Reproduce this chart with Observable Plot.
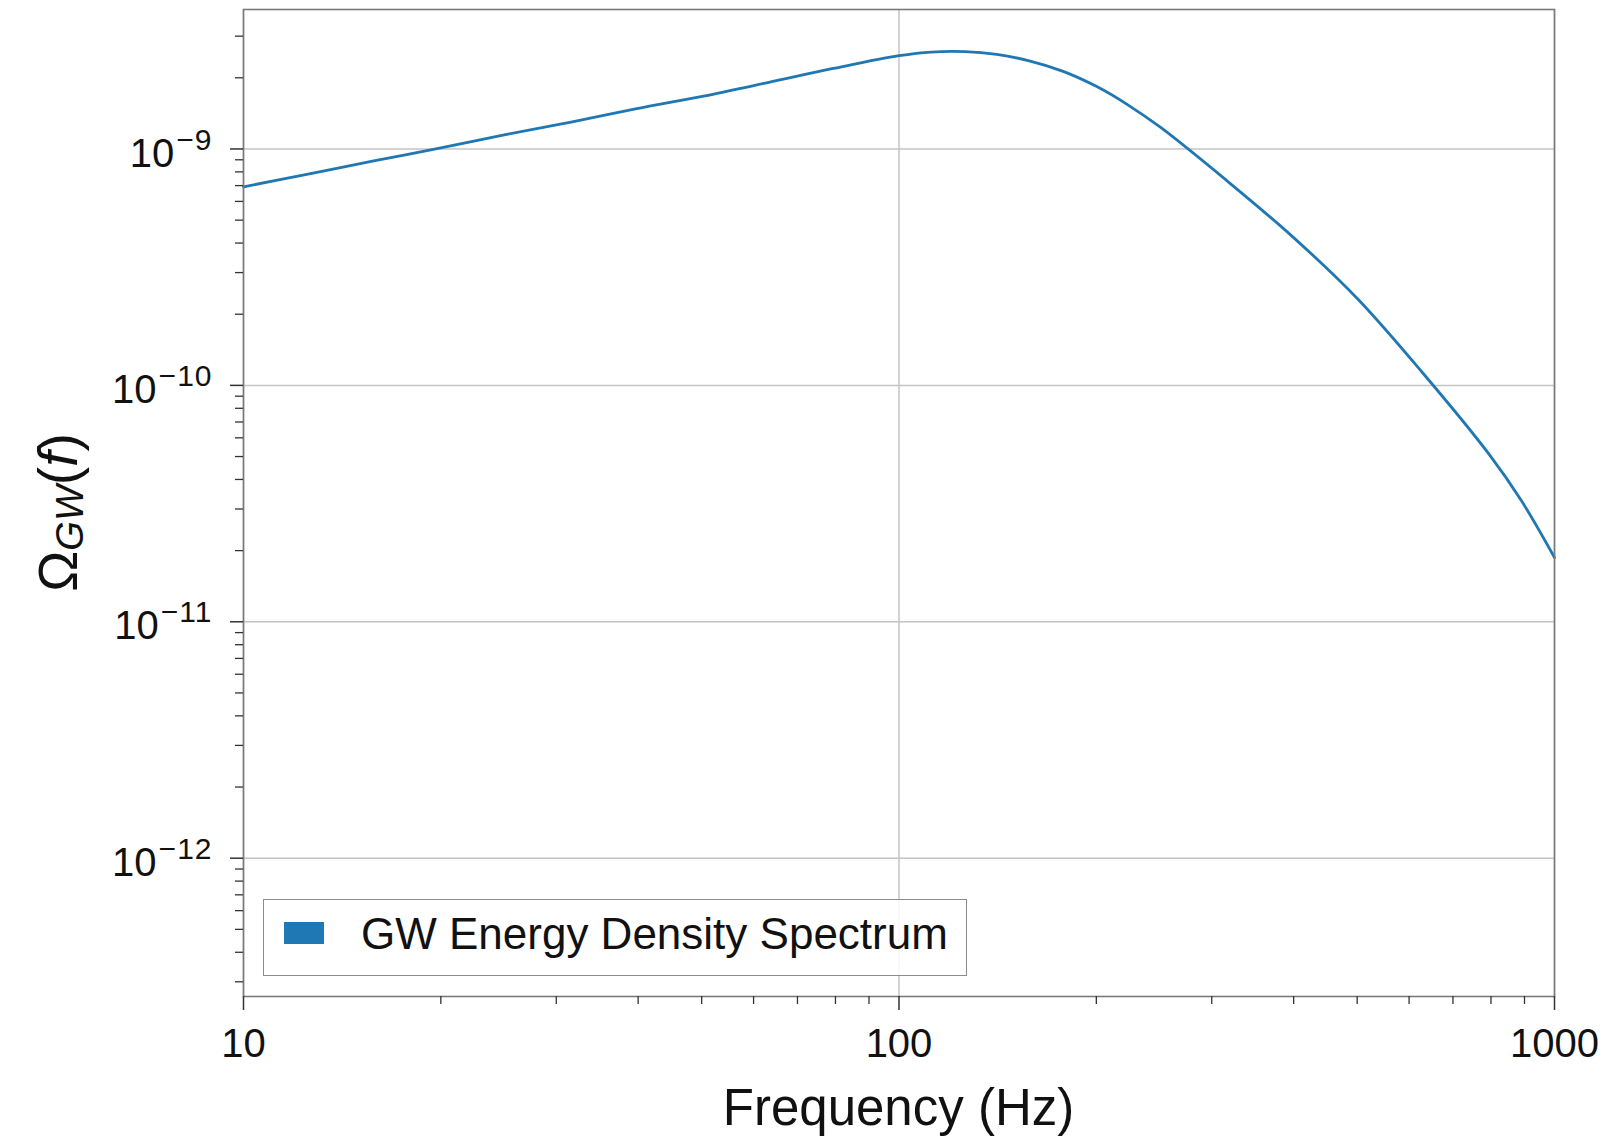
<!DOCTYPE html>
<html>
<head>
<meta charset="utf-8">
<script src="https://cdn.jsdelivr.net/npm/d3@7"></script>
<script src="https://cdn.jsdelivr.net/npm/@observablehq/plot@0.6"></script>
<style>
  html, body { margin: 0; padding: 0; background: #fff; }
  #wrap { position: relative; width: 1605px; height: 1136px; font-family: "Liberation Sans", Arial, Helvetica, sans-serif; }
  #legend { position: absolute; left: 263px; top: 899px; width: 704px; height: 77px; box-sizing: border-box;
            border: 1.5px solid #8c8c8c; background: rgba(255,255,255,0.85); }
  #legend .sw { position: absolute; left: 20px; top: 22px; width: 40px; height: 22px; background: #1f77b4; }
  #legend .lb { position: absolute; left: 97px; top: -3px; line-height: 74px; font-size: 44px; color: #111; white-space: nowrap; }
</style>
</head>
<body>
<div id="wrap"></div>
<script>
// ---- data ----
const frequencyHz = [10, 12.6, 15.8, 20, 25.1, 31.6, 39.8, 50.1, 63.1, 79.4, 100, 112, 126, 141, 158, 178, 200, 224, 251, 316, 398, 501, 631, 794, 891, 1000];
const omegaGW     = [6.92e-10, 7.85e-10, 8.91e-10, 1.01e-9, 1.15e-9, 1.30e-9, 1.48e-9, 1.67e-9, 1.91e-9, 2.19e-9, 2.48e-9, 2.57e-9, 2.58e-9, 2.51e-9, 2.36e-9, 2.13e-9, 1.84e-9, 1.53e-9, 1.23e-9, 7.36e-10, 4.27e-10, 2.32e-10, 1.12e-10, 5.13e-11, 3.24e-11, 1.87e-11];
const seriesName  = "GW Energy Density Spectrum";

const xMajorTicks = [10, 100, 1000];
const xTickLabels = ["10", "100", "1000"];
const yMajorTicks = [1e-12, 1e-11, 1e-10, 1e-9];
const yTickExponents = ["−12", "−11", "−10", "−9"];
const xLabel = "Frequency (Hz)";

const xDomain = [10, 1000];
const yDomain = [2.6e-13, 3.89e-9];

// minor ticks (2..9 × 10^k) inside the domains
function minorTicks(domain) {
  const out = [];
  for (let k = Math.floor(Math.log10(domain[0])); k <= Math.ceil(Math.log10(domain[1])); k++)
    for (let m = 2; m <= 9; m++) { const v = m * Math.pow(10, k); if (v >= domain[0] && v <= domain[1]) out.push(v); }
  return out;
}
const xMinor = minorTicks(xDomain);
const yMinor = minorTicks(yDomain);

const data = frequencyHz.map((f, i) => ({f, omega: omegaGW[i], series: seriesName}));

const W = 1605, H = 1136;
const plot = Plot.plot({
  width: W, height: H,
  marginLeft: 243, marginRight: 51, marginTop: 9, marginBottom: 140,
  style: {fontFamily: '"Liberation Sans", Arial, Helvetica, sans-serif', background: "#fff", color: "#111"},
  x: {type: "log", domain: xDomain, label: null},
  y: {type: "log", domain: yDomain, label: null},
  marks: [
    Plot.gridY(yMajorTicks, {stroke: "#c4c4c4", strokeOpacity: 1, strokeWidth: 1.5}),
    Plot.gridX(xMajorTicks, {stroke: "#c4c4c4", strokeOpacity: 1, strokeWidth: 1.5}),
    Plot.line(data, {x: "f", y: "omega", stroke: "#1f77b4", strokeWidth: 2.8, curve: "catmull-rom"}),
    Plot.frame({stroke: "#7a7a7a", strokeWidth: 1.6}),
    Plot.axisY(yMinor, {anchor: "left", tickSize: 8, tickFormat: () => "", stroke: "#333", strokeWidth: 1.3, label: null}),
    Plot.axisY(yMajorTicks, {anchor: "left", tickSize: 13, tickPadding: 18, fontSize: 40, stroke: "#333", strokeWidth: 1.5, label: null,
      tickFormat: (d) => "10^" + yTickExponents[yMajorTicks.indexOf(d)]}),
    Plot.axisX(xMinor, {anchor: "bottom", tickSize: 8, tickFormat: () => "", stroke: "#333", strokeWidth: 1.3, label: null}),
    Plot.axisX(xMajorTicks, {anchor: "bottom", tickSize: 14, tickPadding: 18, fontSize: 40, stroke: "#333", strokeWidth: 1.5, label: null,
      tickFormat: (d) => xTickLabels[xMajorTicks.indexOf(d)]})
  ]
});

document.getElementById("wrap").appendChild(plot);
const svg = d3.select(plot);

// turn "10^−9" into 10 with a raised exponent
svg.selectAll('g[aria-label="y-axis tick label"] text').each(function() {
  const s = this.textContent;
  if (!s.includes("^")) return;
  const [base, exp] = s.split("^");
  const t = d3.select(this);
  t.text(base).attr("y", "0.44em");
  t.append("tspan").attr("font-size", 30).attr("dx", 2).attr("dy", -17).attr("letter-spacing", 1).text(exp);
});

// axis titles
const xs = plot.scale("x"), ys = plot.scale("y");
const cx = (xs.range[0] + xs.range[1]) / 2;
const cy = (ys.range[0] + ys.range[1]) / 2;
svg.append("text")
  .attr("x", cx).attr("y", 1125).attr("text-anchor", "middle")
  .attr("font-size", 51).attr("fill", "#111").text(xLabel);

const yl = svg.append("text")
  .attr("transform", `translate(77,${cy + 10}) rotate(-90)`)
  .attr("text-anchor", "middle").attr("font-size", 55).attr("fill", "#111");
yl.append("tspan").text("Ω");
yl.append("tspan").attr("font-size", 38).attr("font-style", "italic").attr("dy", 6).text("GW");
yl.append("tspan").attr("dy", -6).text("(");
yl.append("tspan").attr("font-style", "italic").text("f");
yl.append("tspan").text(")");

// legend
const lg = document.createElement("div");
lg.id = "legend";
lg.innerHTML = `<div class="sw"></div><div class="lb"></div>`;
lg.querySelector(".lb").textContent = seriesName;
document.getElementById("wrap").appendChild(lg);
</script>
</body>
</html>
